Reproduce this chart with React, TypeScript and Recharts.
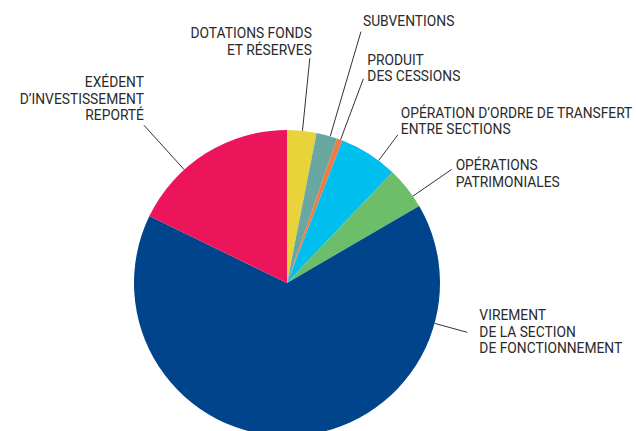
import React from "react";
import { PieChart, Pie, Cell } from "recharts";

const categories = [
  "DOTATIONS FONDS ET RÉSERVES",
  "SUBVENTIONS",
  "PRODUIT DES CESSIONS",
  "OPÉRATION D’ORDRE DE TRANSFERT ENTRE SECTIONS",
  "OPÉRATIONS PATRIMONIALES",
  "VIREMENT DE LA SECTION DE FONCTIONNEMENT",
  "EXÉDENT D’INVESTISSEMENT REPORTÉ",
];
const values = [3.1, 2.2, 0.6, 6.2, 4.5, 65.6, 17.8];
const labelLines = [
  ["DOTATIONS FONDS", "ET RÉSERVES"],
  ["SUBVENTIONS"],
  ["PRODUIT", "DES CESSIONS"],
  ["OPÉRATION D’ORDRE DE TRANSFERT", "ENTRE SECTIONS"],
  ["OPÉRATIONS", "PATRIMONIALES"],
  ["VIREMENT", "DE LA SECTION", "DE FONCTIONNEMENT"],
  ["EXÉDENT", "D’INVESTISSEMENT", "REPORTÉ"],
];
const colors = ["#E8D43A", "#6AA7A0", "#F07A45", "#00BEEE", "#6CBF68", "#00458B", "#EC145B"];

// leader layout: angle clockwise from top, end radius, text anchor, text offset
const layout = [
  { a: 5.8, r1: 226, anchor: "end", dx: 2, dy: -20 },
  { a: 16.4, r1: 262, anchor: "start", dx: 2, dy: -6 },
  { a: 20.5, r1: 218, anchor: "start", dx: 4, dy: -14 },
  { a: 36.8, r1: 185, anchor: "start", dx: 3, dy: -17 },
  { a: 55.4, r1: 200, anchor: "start", dx: 4, dy: 1 },
  { a: 105.3, r1: 187, anchor: "start", dx: 12, dy: -12 },
  { a: 317.8, r1: 213, anchor: "end", dx: 0, dy: -38 },
];

const data = categories.map((name, i) => ({ name, value: values[i] }));

const renderLabel = (props: any) => {
  const { cx, cy, outerRadius, index } = props;
  const l = layout[index];
  const rad = (l.a * Math.PI) / 180;
  const x0 = cx + outerRadius * Math.sin(rad);
  const y0 = cy - outerRadius * Math.cos(rad);
  const x1 = cx + l.r1 * Math.sin(rad);
  const y1 = cy - l.r1 * Math.cos(rad);
  return (
    <g key={`lbl-${index}`}>
      <line x1={x0} y1={y0} x2={x1} y2={y1} stroke="#333" strokeWidth={1} />
      <text
        x={x1 + l.dx}
        y={y1 + l.dy}
        textAnchor={l.anchor as any}
        fill="#2a2a2a"
        fontSize={13.8}
        fontFamily="Roboto, sans-serif"
      >
        {labelLines[index].map((t, k) => (
          <tspan key={k} x={x1 + l.dx} dy={k === 0 ? 0 : 16.5}>
            {t}
          </tspan>
        ))}
      </text>
    </g>
  );
};

export default function App() {
  return (
    <div style={{ position: "absolute", left: 0, top: 0, width: 636, height: 431, background: "#fff" }}>
      <PieChart width={636} height={431} margin={{ top: 0, right: 0, bottom: 0, left: 0 }}>
        <Pie
          data={data}
          dataKey="value"
          nameKey="name"
          cx={287}
          cy={283}
          outerRadius={153}
          startAngle={90}
          endAngle={-270}
          stroke="none"
          isAnimationActive={false}
          label={renderLabel}
          labelLine={false}
        >
          {data.map((d, i) => (
            <Cell key={d.name} fill={colors[i]} />
          ))}
        </Pie>
      </PieChart>
    </div>
  );
}
